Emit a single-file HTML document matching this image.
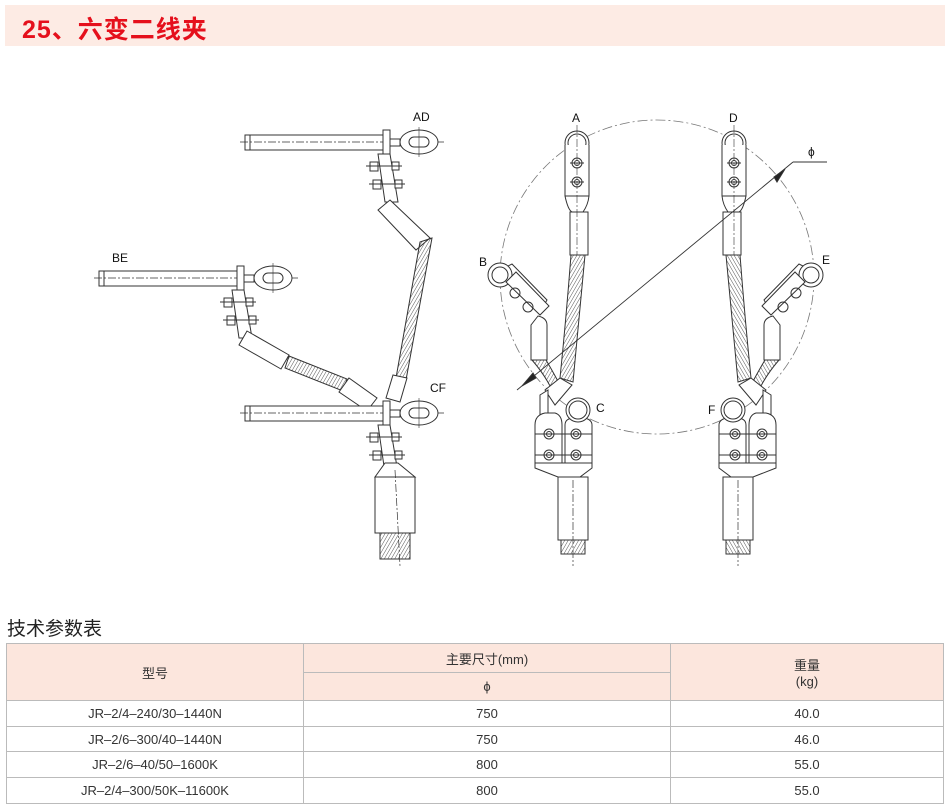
<!DOCTYPE html>
<html><head><meta charset="utf-8"><style>
body{margin:0;width:950px;height:811px;background:#fff;position:relative;overflow:hidden;font-family:"Liberation Sans","Noto Sans CJK SC",sans-serif}
.hdr{position:absolute;left:5px;top:5px;width:940px;height:41px;background:#fdebe4}
.hdr span{position:absolute;left:17px;top:5px;font-size:25px;font-weight:bold;color:#e5101c;letter-spacing:1px}
.t2{position:absolute;left:7px;top:614px;font-size:19px;color:#222}
table{position:absolute;left:6px;top:643px;width:938px;border-collapse:collapse;font-size:13px;color:#333}
td{border:1px solid #bbb;text-align:center;padding:0}
.h td{background:#fce6dd}
</style></head><body>
<div class="hdr"><span>25、六变二线夹</span></div>
<svg width="950" height="600" style="position:absolute;left:0;top:0" fill="none" stroke="#333" stroke-width="1">
<defs>
<pattern id="h" width="3" height="3" patternUnits="userSpaceOnUse" patternTransform="rotate(30)"><line x1="0" y1="0" x2="0" y2="3" stroke="#555" stroke-width="1"/></pattern>
<g id="rod">
<rect x="245" y="-7" width="138" height="15" fill="#fff"/>
<line x1="250" y1="-7" x2="250" y2="8"/>
<line x1="240" y1="0" x2="445" y2="0" stroke-dasharray="8,2,2,2" stroke-width=".7"/>
<rect x="383" y="-12" width="7" height="25" fill="#fff"/>
<rect x="390" y="-3" width="10" height="7" fill="#fff"/>
<ellipse cx="419" cy="0" rx="19" ry="12" fill="#fff"/>
<rect x="409" y="-5" width="20" height="10" rx="5"/>
<line x1="419" y1="-15" x2="419" y2="15" stroke-width=".6"/>
</g>
<g id="nuts">
<path d="M378 12 L390 12 L398 60 L385 60 Z" fill="#fff"/>
<rect x="370" y="20" width="8" height="9" fill="#fff"/><rect x="392" y="20" width="7" height="8" fill="#fff"/>
<rect x="373" y="38" width="8" height="9" fill="#fff"/><rect x="395" y="38" width="7" height="8" fill="#fff"/>
<line x1="366" y1="24" x2="402" y2="24"/><line x1="369" y1="42" x2="405" y2="42"/>
</g>
<g id="asm">
<circle cx="577" cy="143" r="12" fill="#fff"/><circle cx="577" cy="143" r="9"/>
<path d="M565 145 L565 196 Q568 210 572 212 L583 212 Q588 205 589 196 L589 145" fill="#fff"/>
<line x1="565" y1="196" x2="589" y2="196"/>
<circle cx="577" cy="163" r="5"/><circle cx="577" cy="163" r="2.5"/>
<circle cx="577" cy="182" r="5"/><circle cx="577" cy="182" r="2.5"/>
<line x1="570" y1="163" x2="584" y2="163"/><line x1="570" y1="182" x2="584" y2="182"/>
<rect x="570" y="212" width="18" height="43" fill="#fff"/>
<path d="M571 255 Q566 320 560 378 L573 382 Q579 320 585 255 Z" fill="url(#h)"/>
<path d="M500 270 L512 264 L547 300 L540 312 Z" fill="#fff"/>
<circle cx="500" cy="275" r="12" fill="#fff"/><circle cx="500" cy="275" r="8"/>
<path d="M506 282 L540 315 L549 306 L516 272 Z" fill="#fff"/>
<circle cx="515" cy="293" r="5"/><circle cx="528" cy="307" r="5"/>
<path d="M538 316 Q547 318 547 325 L547 360 L531 360 L531 325 Z" fill="#fff"/>
<path d="M532 360 Q545 375 552 390 L560 385 Q552 370 546 360 Z" fill="url(#h)"/>
<path d="M545 390 L560 378 L572 385 L555 405 Z" fill="#fff"/>
<path d="M540 395 L548 390 L548 415 L540 415 Z" fill="#fff"/>
<path d="M535 425 Q535 415 545 413 L555 413 Q562 415 562 425 L562 463 L535 463 Z" fill="#fff"/>
<path d="M565 425 Q565 418 575 418 L585 418 Q592 420 592 425 L592 463 L565 463 Z" fill="#fff"/>
<path d="M535 463 L592 463 L592 468 L580 477 L558 477 L535 468 Z" fill="#fff"/>
<circle cx="578" cy="410" r="12" fill="#fff"/><circle cx="578" cy="410" r="9"/>
<circle cx="549" cy="434" r="5"/><circle cx="549" cy="434" r="2.5"/><circle cx="576" cy="434" r="5"/><circle cx="576" cy="434" r="2.5"/>
<circle cx="549" cy="455" r="5"/><circle cx="549" cy="455" r="2.5"/><circle cx="576" cy="455" r="5"/><circle cx="576" cy="455" r="2.5"/>
<line x1="535" y1="434" x2="592" y2="434"/><line x1="535" y1="455" x2="592" y2="455"/>
<rect x="558" y="477" width="30" height="63" fill="#fff"/>
<rect x="561" y="540" width="24" height="14" fill="url(#h)"/>
<line x1="573" y1="480" x2="573" y2="566" stroke-dasharray="8,2,2,2" stroke-width=".7"/>
<line x1="577" y1="125" x2="577" y2="255" stroke-dasharray="8,2,2,2" stroke-width=".6"/>
</g>
</defs>
<!-- left drawing -->
<use href="#rod" transform="translate(0,142)"/>
<use href="#nuts" transform="translate(0,142)"/>
<path d="M390 200 L430 238 L416 250 L378 210 Z" fill="#fff"/>
<path d="M420 242 L432 238 L406 380 L396 378 Z" fill="url(#h)"/>
<path d="M393 375 L407 378 L400 402 L386 398 Z" fill="#fff"/>
<g transform="translate(-146,278)"><use href="#rod"/><use href="#nuts"/></g>
<path d="M247 331 L289 355 L281 369 L239 345 Z" fill="#fff"/>
<path d="M289 356 L347 379 L343 391 L285 368 Z" fill="url(#h)"/>
<path d="M349 378 L377 398 L367 411 L339 392 Z" fill="#fff"/>
<use href="#rod" transform="translate(0,413)"/>
<use href="#nuts" transform="translate(0,413)"/>
<path d="M385 463 L398 463 L415 477 L375 477 Z" fill="#fff"/>
<rect x="375" y="477" width="40" height="56" fill="#fff"/>
<rect x="380" y="533" width="30" height="26" fill="url(#h)"/>
<line x1="395" y1="470" x2="400" y2="566" stroke-dasharray="8,2,2,2" stroke-width=".7"/>
<!-- right drawing -->
<circle cx="657" cy="277" r="157" stroke="#777" stroke-width=".8" stroke-dasharray="10,3,2,3"/>
<use href="#asm"/>
<use href="#asm" transform="translate(1311,0) scale(-1,1)"/>
<line x1="517" y1="390" x2="793" y2="162" stroke-width=".9"/>
<line x1="793" y1="162" x2="827" y2="162" stroke-width=".9"/>
<path d="M522 386 L533 373 L536 378 Z" fill="#222"/>
<path d="M785 169 L774 177 L777 182 Z" fill="#222"/>
<g fill="#111" stroke="none" font-family="Liberation Sans" font-size="12">
<text x="413" y="121">AD</text><text x="112" y="262">BE</text><text x="430" y="392">CF</text>
<text x="572" y="122">A</text><text x="729" y="122">D</text><text x="479" y="266">B</text><text x="822" y="264">E</text>
<text x="596" y="412">C</text><text x="708" y="414">F</text><text x="808" y="156">ϕ</text>
</g>
</svg>
<div class="t2">技术参数表</div>
<table>
<tr class="h" style="height:29px"><td rowspan="2" style="width:296px">型号</td><td style="width:366px">主要尺寸(mm)</td><td rowspan="2">重量<br>(kg)</td></tr>
<tr class="h" style="height:28px"><td>ϕ</td></tr>
<tr style="height:26px"><td>JR–2/4–240/30–1440N</td><td>750</td><td>40.0</td></tr>
<tr style="height:25px"><td>JR–2/6–300/40–1440N</td><td>750</td><td>46.0</td></tr>
<tr style="height:26px"><td>JR–2/6–40/50–1600K</td><td>800</td><td>55.0</td></tr>
<tr style="height:26px"><td>JR–2/4–300/50K–11600K</td><td>800</td><td>55.0</td></tr>
</table>
</body></html>
